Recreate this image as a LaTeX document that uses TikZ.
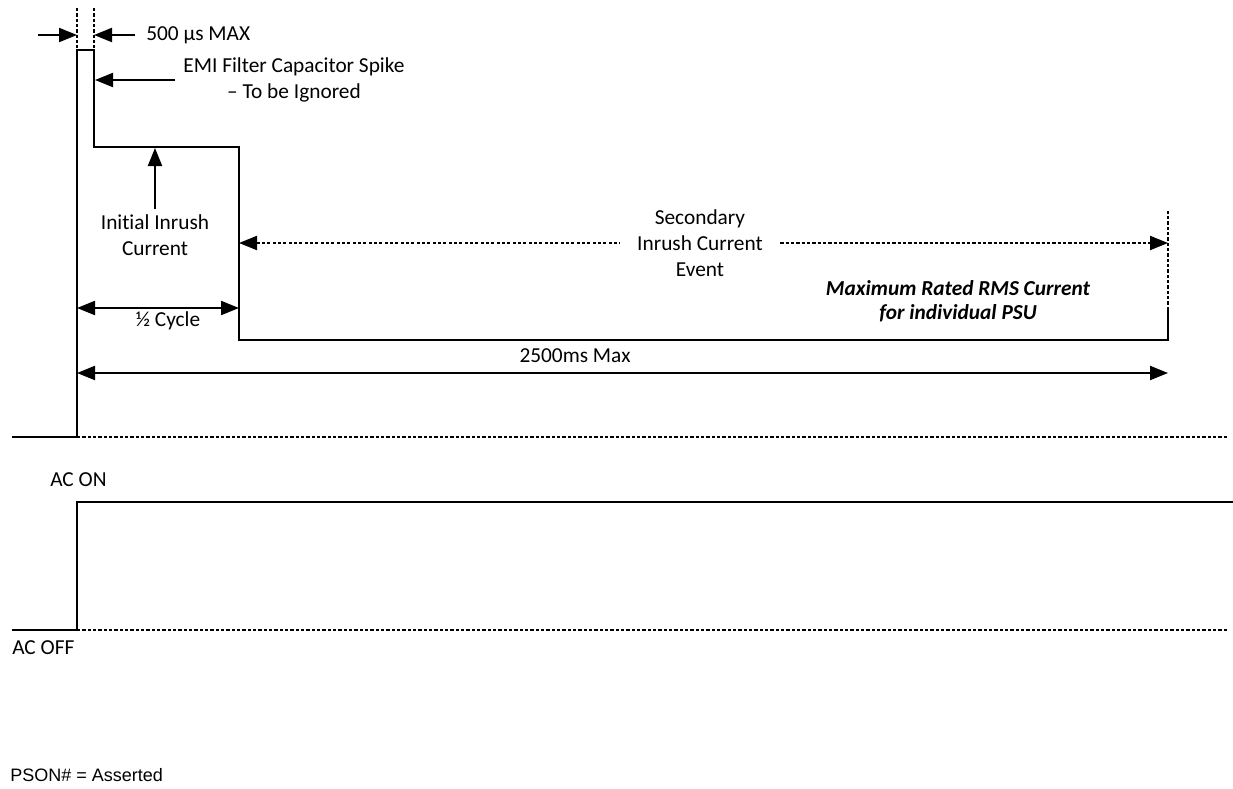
\documentclass[tikz,border=0pt]{standalone}
\usepackage{fontspec}
\setmainfont[Ligatures=NoCommon]{Carlito}
\newfontfamily\psonfont{Liberation Sans}
\usetikzlibrary{arrows.meta}

\begin{document}
\begin{tikzpicture}[x=0.75pt, y=-0.75pt, every node/.style={font=\fontsize{16}{19.5}\selectfont, inner sep=0pt}, >={Triangle[length=13.5pt, width=10.5pt]}, trace/.style={line width=2pt}, dimline/.style={line width=1.6pt}, dotline/.style={line width=1.5pt, dash pattern=on 2.4pt off 1.6pt}]
	\useasboundingbox (0,0) rectangle (1233,789);
	% current trace
	\coordinate (iStart) at (12,437);
	\coordinate (iRise) at (77,437);
	\coordinate (iEnd) at (1228,437);
	\coordinate (spikeL) at (77,50);
	\coordinate (spikeR) at (94,50);
	\coordinate (initL) at (94,147);
	\coordinate (initR) at (239,147);
	\coordinate (secL) at (239,340);
	\coordinate (secR) at (1168,340);
	\coordinate (secTop) at (1168,310);
	\coordinate (secMark) at (1168,210);
	\draw[trace] (iStart) -- (iRise) -- (spikeL) -- (spikeR) -- (initL) -- (initR) -- (secL) -- (secR) -- (secTop);
	\draw[dotline] (iRise) -- (iEnd);
	\draw[dotline] (secTop) -- (secMark);
	\foreach \x in {77,94} {\draw[dotline] (\x,8) -- (\x,48);}

	% 500 us marker
	\node[anchor=west] (widthTxt) at (146,35) {500 µs MAX};
	\coordinate (wInL) at (38,35);
	\coordinate (wTipL) at (77,35);
	\coordinate (wInR) at (135,35);
	\coordinate (wTipR) at (94,35);
	\draw[dimline,->] (wInL) -- (wTipL);
	\draw[dimline,->] (wInR) -- (wTipR);

	% spike label
	\node[align=center, inner xsep=6pt] (emiTxt) at (294,80) {EMI Filter Capacitor Spike\\– To be Ignored};
	\coordinate (emiTip) at (95,80);
	\draw[dimline,->] (emiTxt.west) -- (emiTip);

	% initial inrush
	\node[align=center, inner ysep=4pt] (initTxt) at (155,235) {Initial Inrush\\Current};
	\coordinate (initTip) at (155,148);
	\draw[dimline,->] (initTxt.north) -- (initTip);
	\coordinate (halfL) at (77,308);
	\coordinate (halfR) at (239,308);
	\draw[dimline,<->] (halfL) -- (halfR);
	\node (halfTxt) at (168,321) {½ Cycle};

	% secondary inrush
	\node[align=center, inner xsep=13pt] (secTxt) at (700,243) {Secondary\\Inrush Current\\Event};
	\coordinate (secArrL) at (239,243);
	\coordinate (secArrR) at (1168,243);
	\draw[dotline,<-] (secArrL) -- (secTxt.west);
	\draw[dotline,->] (secTxt.east) -- (secArrR);
	\node[align=center, font=\fontsize{16}{18}\selectfont\bfseries\itshape] (rmsTxt) at (958,301) {Maximum Rated RMS Current\\for individual PSU};

	% 2500 ms
	\coordinate (totL) at (77,373);
	\coordinate (totR) at (1168,373);
	\draw[dimline,<->] (totL) -- (totR);
	\node (totTxt) at (575,356) {2500ms Max};

	% AC trace
	\coordinate (acStart) at (12,630);
	\coordinate (acRise) at (77,630);
	\coordinate (acHigh) at (77,502);
	\coordinate (acEnd) at (1233,502);
	\coordinate (acOffEnd) at (1228,630);
	\draw[trace] (acStart) -- (acRise) -- (acHigh) -- (acEnd);
	\draw[dotline] (acRise) -- (acOffEnd);
	\node[anchor=west] (acOn) at (50,480) {AC ON};
	\node[anchor=west] (acOff) at (12,648) {AC OFF};

	\node[anchor=west, font=\psonfont\fontsize{13.5}{16}\selectfont] (pson) at (10,775) {PSON\# = Asserted};
\end{tikzpicture}
\end{document}
